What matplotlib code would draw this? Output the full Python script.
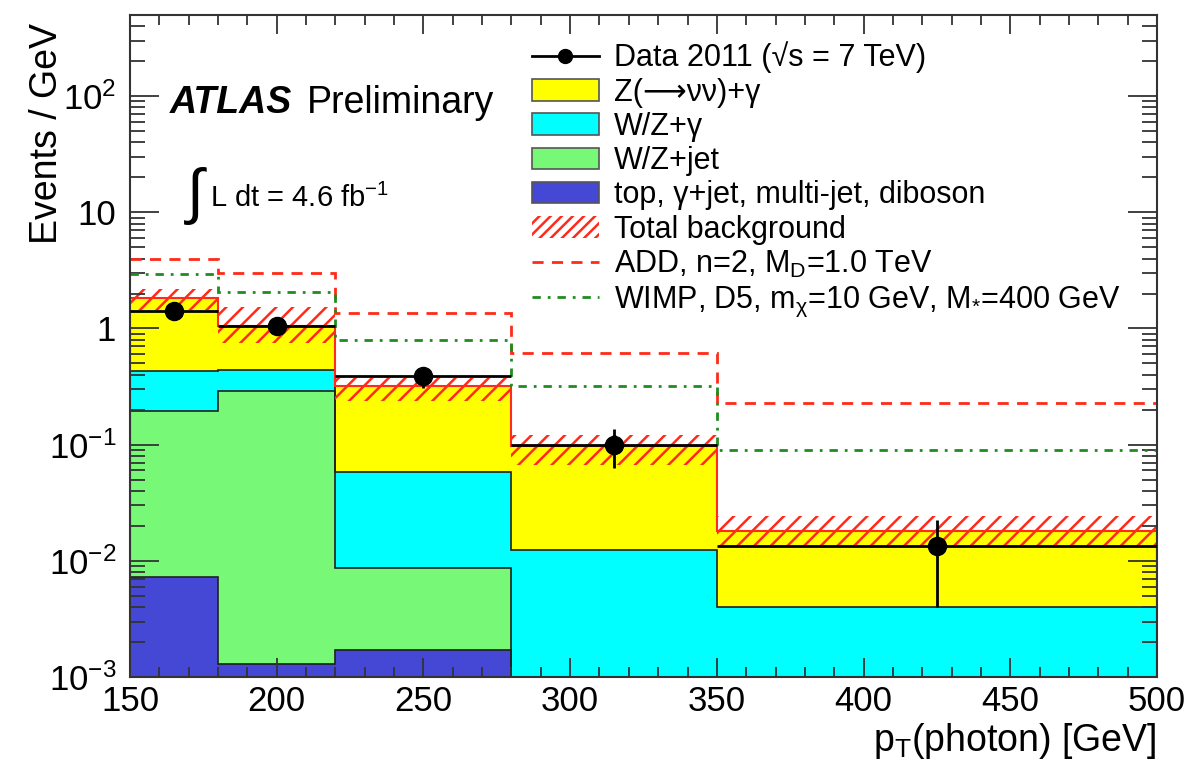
import numpy as np
import matplotlib
matplotlib.use("Agg")
import matplotlib.pyplot as plt
from matplotlib.patches import Patch
from matplotlib.lines import Line2D

plt.rcParams['font.family'] = ['Liberation Sans', 'DejaVu Sans']
plt.rcParams['mathtext.fontset'] = 'custom'
plt.rcParams['mathtext.rm'] = 'Liberation Sans'
plt.rcParams['mathtext.it'] = 'Liberation Sans:italic'
plt.rcParams['mathtext.bf'] = 'Liberation Sans:bold'
plt.rcParams['hatch.linewidth'] = 1.8

# bin edges in pT(photon) [GeV]
edges = np.array([150, 180, 220, 280, 350, 500])

# background components, events / GeV
other_bkg = np.array([0.0073, 0.0013, 0.0017, 0.0, 0.0])   # top, gamma+jet, multi-jet, diboson
wz_jet = np.array([0.187, 0.291, 0.0070, 0.0, 0.0])
wz_gamma = np.array([0.236, 0.151, 0.049, 0.0124, 0.0040])
znunu_gamma = np.array([1.39, 0.61, 0.26, 0.085, 0.0139])

# total background uncertainty band
bkg_up = np.array([2.2, 1.54, 0.376, 0.122, 0.0241])
bkg_down = np.array([1.44, 0.75, 0.236, 0.067, 0.0133])

# data
data = np.array([1.41, 1.05, 0.39, 0.10, 0.0133])
data_err = np.array([0.22, 0.16, 0.08, 0.037, 0.0093])

# signals
add_signal = np.array([3.93, 3.02, 1.37, 0.617, 0.229])
wimp_signal = np.array([2.96, 2.07, 0.80, 0.318, 0.0906])

col_yellow = '#FFFF00'
col_cyan = '#00FFFF'
col_green = '#77F877'
col_blue = '#4448D4'
col_red = '#FF2A1A'
col_dkgreen = '#1E8C1E'

fig = plt.figure(figsize=(11.95, 7.68), dpi=100)
ax = fig.add_axes([0.1088, 0.1185, 0.8594, 0.862])
ax.set_yscale('log')

floor = 1e-5
layers = [other_bkg, wz_jet, wz_gamma, znunu_gamma]
colors = [col_blue, col_green, col_cyan, col_yellow]
cum = np.cumsum(layers, axis=0)
# draw from the top of the stack downwards, like a THStack
for i in range(len(layers) - 1, -1, -1):
    ax.stairs(np.maximum(cum[i], floor), edges, baseline=floor, fill=True,
              facecolor=colors[i], edgecolor='none', zorder=1)
    ax.stairs(np.maximum(cum[i], floor), edges, baseline=None,
              color='#202020', lw=1.2, zorder=1.1)

total = cum[-1]
# uncertainty band
ax.stairs(bkg_up, edges, baseline=bkg_down, fill=True, facecolor='none',
          edgecolor=col_red, hatch='//', lw=0, zorder=1.5)
ax.stairs(total, edges, baseline=floor, color=col_red, lw=1.5, zorder=1.6)

# signals
ax.stairs(add_signal, edges, baseline=None, color=col_red, lw=2.0,
          linestyle=(0, (4, 3)), zorder=2)
ax.stairs(wimp_signal, edges, baseline=None, color=col_dkgreen, lw=2.0,
          linestyle=(0, (3, 2.5, 1, 2.5)), zorder=2)

# data
centers = 0.5 * (edges[:-1] + edges[1:])
halfw = 0.5 * np.diff(edges)
ax.errorbar(centers, data, xerr=halfw, yerr=data_err, fmt='o', color='black',
            markersize=13, elinewidth=2, capsize=0, zorder=3)

ax.set_xlim(150, 500)
ax.set_ylim(1e-3, 500)

yt = [1e-3, 1e-2, 1e-1, 1, 10, 100]
ytl = [r'$\mathregular{10^{-3}}$', r'$\mathregular{10^{-2}}$', r'$\mathregular{10^{-1}}$',
       '1', '10', r'$\mathregular{10^{2}}$']
ax.set_yticks(yt)
ax.set_yticklabels(ytl)
ax.set_xticks([150, 200, 250, 300, 350, 400, 450, 500])
ax.xaxis.set_minor_locator(matplotlib.ticker.MultipleLocator(10))
ax.yaxis.set_minor_locator(matplotlib.ticker.LogLocator(base=10, subs=np.arange(2, 10)))
ax.yaxis.set_minor_formatter(matplotlib.ticker.NullFormatter())

ax.tick_params(which='both', direction='in', top=True, right=True, width=1.3,
               labelsize=25, color='#333333')
ax.tick_params(axis='x', which='major', length=14, pad=6)
ax.tick_params(axis='x', which='minor', length=7)
ax.tick_params(axis='y', which='major', length=21, pad=10)
ax.tick_params(axis='y', which='minor', length=11)
for s in ax.spines.values():
    s.set_linewidth(1.5)
    s.set_color('#333333')

ax.set_xlabel(r'$\mathregular{p_T}$(photon) [GeV]', fontsize=27, loc='right', labelpad=2)
ax.set_ylabel('Events / GeV', fontsize=27, loc='top')
ax.yaxis.set_label_coords(-0.063, 0.988)

# labels
ax.text(0.039, 0.852, 'ATLAS', transform=ax.transAxes, fontsize=27,
        fontweight='bold', fontstyle='italic', va='baseline')
ax.text(0.172, 0.852, 'Preliminary', transform=ax.transAxes, fontsize=27, va='baseline')
ax.text(0.055, 0.702, '\u222b', transform=ax.transAxes, fontsize=44, va='baseline')
ax.text(0.078, 0.71, r'L dt = 4.6 fb$\mathregular{^{-1}}$', transform=ax.transAxes,
        fontsize=21, va='baseline')

handles = [
    Line2D([], [], color='black', marker='o', markersize=10, lw=2),
    Patch(facecolor=col_yellow, edgecolor='#555555', lw=1.2),
    Patch(facecolor=col_cyan, edgecolor='#555555', lw=1.2),
    Patch(facecolor=col_green, edgecolor='#555555', lw=1.2),
    Patch(facecolor=col_blue, edgecolor='#555555', lw=1.2),
    Patch(facecolor='none', edgecolor=col_red, hatch='///', lw=0),
    Line2D([], [], color=col_red, lw=2.0, linestyle=(0, (4, 3))),
    Line2D([], [], color=col_dkgreen, lw=2.0, linestyle=(0, (3, 2.5, 1, 2.5))),
]
labels = [
    'Data 2011 (\u221as = 7 TeV)',
    'Z(\u27f6\u03bd\u03bd)+\u03b3',
    'W/Z+\u03b3',
    'W/Z+jet',
    'top, \u03b3+jet, multi-jet, diboson',
    'Total background',
    r'ADD, n=2, M$\mathregular{_D}$=1.0 TeV',
    r'WIMP, D5, m$\mathregular{_\chi}$=10 GeV, M$\mathregular{_{*}}$=400 GeV',
]
ax.legend(handles, labels, loc='upper left', bbox_to_anchor=(0.391, 0.96),
          frameon=False, fontsize=22, borderpad=0, borderaxespad=0,
          labelspacing=0.14, handlelength=2.2, handletextpad=0.5, handleheight=0.7)

fig.savefig('out.png', dpi=100)
